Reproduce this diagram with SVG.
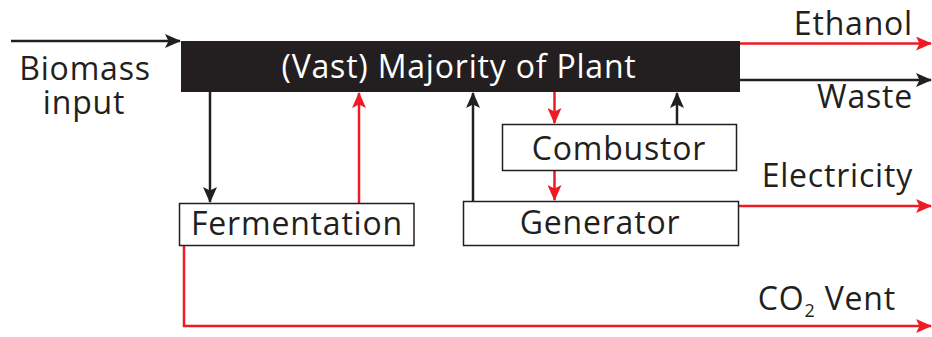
<svg xmlns="http://www.w3.org/2000/svg" width="932" height="337" viewBox="0 0 932 337">
<defs>
<style>
text{font-family:"Open Sans","Liberation Sans",sans-serif;font-size:32px;fill:#231f20;letter-spacing:0.8px}
.box{fill:#fff;stroke:#231f20;stroke-width:1.5}
.k{stroke:#231f20;stroke-width:2.5;fill:none}
.r{stroke:#ed1c24;stroke-width:2.5;fill:none}
</style>
<marker id="ak" viewBox="0 0 16 14" refX="15" refY="7" markerWidth="16" markerHeight="14" markerUnits="userSpaceOnUse" orient="auto"><path d="M0,0 L16,7 L0,14 L3.5,7 Z" fill="#231f20"/></marker>
<marker id="ar" viewBox="0 0 16 14" refX="15" refY="7" markerWidth="16" markerHeight="14" markerUnits="userSpaceOnUse" orient="auto"><path d="M0,0 L16,7 L0,14 L3.5,7 Z" fill="#ed1c24"/></marker>
</defs>
<g id="connectors">
<line class="k" x1="11" y1="41" x2="180" y2="41" marker-end="url(#ak)"/>
<line class="r" x1="740" y1="43.5" x2="931" y2="43.5" marker-end="url(#ar)"/>
<line class="k" x1="740" y1="80" x2="931" y2="80" marker-end="url(#ak)"/>
<line class="r" x1="739" y1="206" x2="931" y2="206" marker-end="url(#ar)"/>
<line class="k" x1="210" y1="92" x2="210" y2="202" marker-end="url(#ak)"/>
<line class="r" x1="359" y1="203" x2="359" y2="93" marker-end="url(#ar)"/>
<line class="k" x1="473" y1="201" x2="473" y2="93" marker-end="url(#ak)"/>
<line class="r" x1="554.5" y1="92" x2="554.5" y2="123" marker-end="url(#ar)"/>
<line class="k" x1="677" y1="124" x2="677" y2="93" marker-end="url(#ak)"/>
<line class="r" x1="554.5" y1="170" x2="554.5" y2="200" marker-end="url(#ar)"/>
<polyline class="r" points="184,246 184,326 931,326" marker-end="url(#ar)"/>
</g>
<g id="main">
<rect x="181" y="41" width="559" height="51" fill="#231f20"/>
<text x="459" y="78" text-anchor="middle" style="fill:#fff">(Vast) Majority of Plant</text>
</g>
<g id="biomass">
<text x="85" y="80" text-anchor="middle">Biomass</text>
<text x="84" y="114" text-anchor="middle">input</text>
</g>
<g id="combustor">
<rect class="box" x="502.5" y="124.5" width="234" height="46"/>
<text x="619" y="160" text-anchor="middle">Combustor</text>
</g>
<g id="generator">
<rect class="box" x="463.5" y="201.5" width="275" height="44"/>
<text x="600" y="234" text-anchor="middle">Generator</text>
</g>
<g id="fermentation">
<rect class="box" x="179.5" y="203.5" width="234.5" height="42"/>
<text x="297" y="235" text-anchor="middle">Fermentation</text>
</g>
<g id="outputs">
<text x="913" y="35" text-anchor="end">Ethanol</text>
<text x="913" y="108" text-anchor="end">Waste</text>
<text x="913" y="187" text-anchor="end">Electricity</text>
<text x="896" y="310" text-anchor="end">CO<tspan font-size="18" dy="7">2</tspan><tspan dy="-7"> Vent</tspan></text>
</g>
</svg>
